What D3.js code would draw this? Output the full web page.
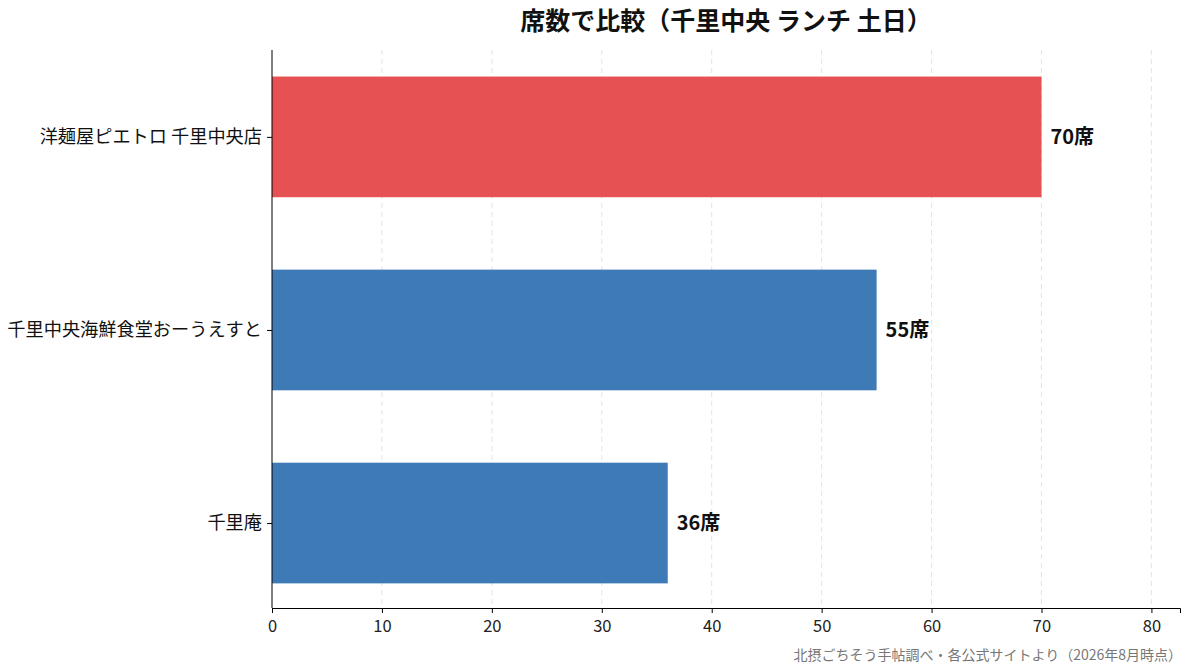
<!DOCTYPE html>
<html>
<head>
<meta charset="utf-8">
<script src="https://cdn.jsdelivr.net/npm/d3@7"></script>
<style>
  body { margin: 0; background: #fff; }
  svg text { font-family: "Noto Sans CJK JP", "Noto Sans", sans-serif; }
</style>
</head>
<body>
<div id="chart"></div>
<script>
// データ
const shops = ["洋麺屋ピエトロ 千里中央店", "千里中央海鮮食堂おーうえすと", "千里庵"];
const seats = [70, 55, 36];
const barColors = ["#e44547", "#2f70af", "#2f70af"];
const xTicks = [0, 10, 20, 30, 40, 50, 60, 70, 80];

const width = 1193, height = 672;
const margin = { top: 50, right: 13, bottom: 64, left: 272 };
const plotW = width - margin.left - margin.right;
const plotH = height - margin.top - margin.bottom;

const svg = d3.select("#chart").append("svg")
    .attr("width", width)
    .attr("height", height);

const g = svg.append("g")
    .attr("transform", `translate(${margin.left},${margin.top})`);

const x = d3.scaleLinear().domain([0, 82.6]).range([0, plotW]);
// 0..2 のカテゴリ位置（上から順）
const y = d3.scaleLinear().domain([-0.45, shops.length - 1 + 0.44]).range([0, plotH]);
const barH = y(0.625) - y(0);

// グリッド（縦の破線）
g.append("g")
    .selectAll("line")
    .data(xTicks.filter(t => t > 0))
    .enter().append("line")
    .attr("x1", d => x(d)).attr("x2", d => x(d))
    .attr("y1", 0).attr("y2", plotH)
    .attr("stroke", "#cfcfcf")
    .attr("stroke-opacity", 0.7)
    .attr("stroke-dasharray", "5,4")
    .attr("stroke-width", 0.8);

// 棒（少し透過してグリッドが薄く見える）
g.selectAll("rect.bar")
    .data(seats)
    .enter().append("rect")
    .attr("class", "bar")
    .attr("x", x(0))
    .attr("y", (d, i) => y(i) - barH / 2)
    .attr("width", d => x(d) - x(0))
    .attr("height", barH)
    .attr("fill", (d, i) => barColors[i])
    .attr("fill-opacity", 0.93);

// 値ラベル
g.selectAll("text.val")
    .data(seats)
    .enter().append("text")
    .attr("class", "val")
    .attr("x", d => x(d) + 9)
    .attr("y", (d, i) => y(i))
    .attr("dy", "0.36em")
    .attr("font-size", 20)
    .attr("font-weight", "bold")
    .attr("fill", "#111")
    .text(d => d + "席");

// x 軸
const xAxis = g.append("g")
    .attr("transform", `translate(0,${plotH})`)
    .call(d3.axisBottom(x).tickValues(xTicks).tickSize(5).tickPadding(7));
xAxis.selectAll("text").attr("font-size", 16.5).attr("fill", "#222");
xAxis.select(".domain").attr("stroke", "#000").attr("stroke-width", 1);

// y 軸
const yAxis = g.append("g")
    .call(d3.axisLeft(y).tickValues(d3.range(shops.length)).tickFormat(i => shops[i]).tickSize(5).tickPadding(5));
yAxis.selectAll("text").attr("font-size", 18.2).attr("fill", "#111");
yAxis.select(".domain").attr("d", `M0,0V${plotH}`).attr("stroke", "#000");

// タイトル
svg.append("text")
    .attr("x", margin.left + plotW / 2)
    .attr("y", 30)
    .attr("text-anchor", "middle")
    .attr("font-size", 25)
    .attr("font-weight", "bold")
    .attr("fill", "#111")
    .text("席数で比較（千里中央 ランチ 土日）");

// 出典
svg.append("text")
    .attr("x", width - 11)
    .attr("y", 660)
    .attr("text-anchor", "end")
    .attr("font-size", 14)
    .attr("fill", "#777")
    .text("北摂ごちそう手帖調べ・各公式サイトより（2026年8月時点）");
</script>
</body>
</html>
